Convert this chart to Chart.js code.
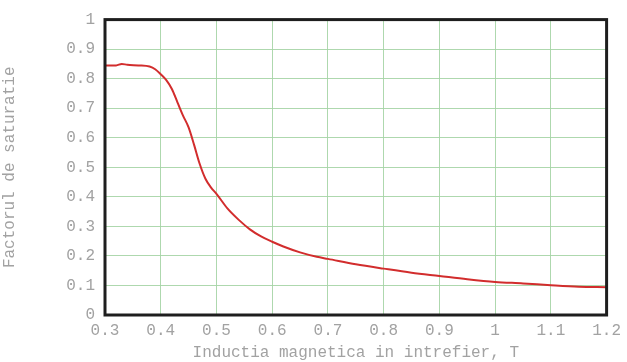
<!DOCTYPE html>
<html>
<head>
<meta charset="utf-8">
<script src="https://cdn.jsdelivr.net/npm/chart.js@4"></script>
<style>
  html, body { margin: 0; padding: 0; background: #fff; }
  #wrap { width: 627px; height: 362px; }
</style>
</head>
<body>
<div id="wrap"><canvas id="chartArea"></canvas></div>
<script>
// induction in air gap (T) and saturation factor
const inductie = [0.30, 0.32, 0.33, 0.34, 0.36, 0.38, 0.39, 0.40, 0.41, 0.42, 0.43, 0.44, 0.45,
    0.46, 0.47, 0.48, 0.49, 0.50, 0.52, 0.54, 0.56, 0.58, 0.60, 0.62, 0.65, 0.68, 0.70, 0.75, 0.80,
    0.85, 0.90, 0.95, 1.00, 1.05, 1.10, 1.15, 1.20];
const factor = [0.845, 0.845, 0.85, 0.847, 0.845, 0.841, 0.832, 0.815, 0.795, 0.765, 0.72, 0.675, 0.635,
    0.575, 0.511, 0.462, 0.432, 0.41, 0.36, 0.322, 0.29, 0.266, 0.248, 0.232, 0.212, 0.197, 0.19, 0.172, 0.157,
    0.143, 0.132, 0.121, 0.112, 0.107, 0.101, 0.096, 0.094];

const xTitle = 'Inductia magnetica in intrefier, T';
const yTitle = 'Factorul de saturatie';

const points = inductie.map((x, i) => ({ x: x, y: factor[i] }));

const mono = 'Liberation Mono, Courier New, monospace';
const gray = '#a2a2a2';
const gridGreen = 'rgba(165, 212, 165, 0.9)';

// dark frame around the plot area
const framePlugin = {
    id: 'frame',
    afterDatasetsDraw(chart) {
        const a = chart.chartArea;
        const ctx = chart.ctx;
        ctx.save();
        ctx.strokeStyle = '#1e1e1e';
        ctx.lineWidth = 3;
        ctx.strokeRect(a.left, a.top, a.right - a.left, a.bottom - a.top);
        ctx.restore();
    }
};

new Chart(document.getElementById('chartArea').getContext('2d'), {
    type: 'line',
    data: {
        datasets: [{
            data: points,
            borderColor: 'rgb(210, 45, 45)',
            borderWidth: 2,
            pointRadius: 0,
            cubicInterpolationMode: 'monotone',
            fill: false
        }]
    },
    options: {
        responsive: true,
        maintainAspectRatio: false,
        animation: false,
        layout: { padding: { top: 17, right: 19, left: 0, bottom: 0 } },
        plugins: {
            legend: { display: false },
            tooltip: { enabled: false }
        },
        scales: {
            x: {
                type: 'linear',
                min: 0.3,
                max: 1.2,
                afterFit: scale => { scale.height = 47; },
                ticks: {
                    stepSize: 0.1,
                    color: gray,
                    padding: 6,
                    maxRotation: 0,
                    font: { family: mono, size: 16 },
                    callback: v => String(Number(v.toFixed(1)))
                },
                grid: { color: gridGreen, lineWidth: 1, drawTicks: false },
                border: { display: false },
                title: {
                    display: true,
                    text: xTitle,
                    color: gray,
                    font: { family: mono, size: 16 },
                    padding: { top: 2, bottom: 0 }
                }
            },
            y: {
                min: 0,
                max: 1,
                afterFit: scale => { scale.width = 105; },
                ticks: {
                    stepSize: 0.1,
                    color: gray,
                    padding: 10,
                    font: { family: mono, size: 16 },
                    callback: v => String(Number(v.toFixed(1)))
                },
                grid: { color: gridGreen, lineWidth: 1, drawTicks: false },
                border: { display: false },
                title: {
                    display: true,
                    text: yTitle,
                    color: gray,
                    font: { family: mono, size: 16 },
                    padding: { top: 0, bottom: 4 }
                }
            }
        }
    },
    plugins: [framePlugin]
});
</script>
</body>
</html>
